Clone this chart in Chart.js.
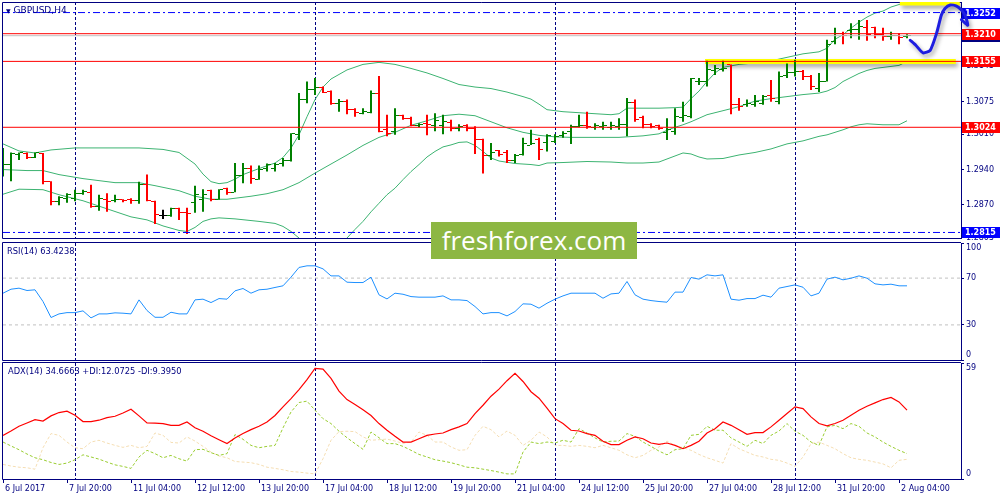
<!DOCTYPE html>
<html>
<head>
<meta charset="utf-8">
<script src="https://cdn.jsdelivr.net/npm/chart.js@4.4.1/dist/chart.umd.min.js"></script>
<style>
  html, body { margin: 0; padding: 0; background: #ffffff; }
  #wrap { position: relative; width: 1000px; height: 500px; overflow: hidden; background: #ffffff; }
  #wrap canvas { position: absolute; left: 0; }
  .cap { position: absolute; font-family: "DejaVu Sans", sans-serif; color: #000080; white-space: nowrap; line-height: 10px; }
  #brand { position: absolute; left: 431px; top: 222px; width: 206px; height: 37px; background: #8db743;
           color: #ffffff; font: 26px "Open Sans", sans-serif; line-height: 36px; text-align: center; }
</style>
</head>
<body>
<div id="wrap">
  <canvas id="mainChart" width="1000" height="250" style="top:-5px"></canvas>
  <canvas id="rsiChart" width="1000" height="141" style="top:231px"></canvas>
  <canvas id="adxChart" width="1000" height="149" style="top:351px"></canvas>
  <div class="cap" style="left:6px; top:5px; font-size:9px"><span style="font-size:6px">▼</span> GBPUSD,H4</div>
  <div class="cap" style="left:7px; top:246px; font-size:8.3px">RSI(14) 63.4238</div>
  <div class="cap" style="left:8px; top:366px; font-size:8.3px">ADX(14) 34.6663 +DI:12.0725 -DI:9.3950</div>
  <div id="brand">freshforex.com</div>
</div>
<script>
// ---- price bars (H4), index 0 = first visible bar ----
const opens = [
  1.2946, 1.2950, 1.2969, 1.2971, 1.2964, 1.2971, 1.2917, 1.2877, 1.2883, 1.2883,
  1.2892, 1.2895, 1.2867, 1.2880, 1.2878, 1.2880, 1.2880, 1.2878, 1.2911, 1.2877,
  1.2848, 1.2848, 1.2862, 1.2855, 1.2874, 1.2881, 1.2899, 1.2881, 1.2902, 1.2895,
  1.2928, 1.2943, 1.2921, 1.2943, 1.2943, 1.2953, 1.2958, 1.3009, 1.3079, 1.3100,
  1.3104, 1.3095, 1.3072, 1.3075, 1.3059, 1.3052, 1.3053, 1.3092, 1.3019, 1.3015,
  1.3047, 1.3042, 1.3028, 1.3032, 1.3028, 1.3028, 1.3033, 1.3022, 1.3027, 1.3022,
  1.2999, 1.2968, 1.2977, 1.2973, 1.2959, 1.2969, 1.2987, 1.2999, 1.2993, 1.2996,
  1.3008, 1.3016, 1.3026, 1.3028, 1.3024, 1.3026, 1.3024, 1.3026, 1.3029, 1.3073,
  1.3043, 1.3030, 1.3027, 1.3013, 1.3016, 1.3043, 1.3045, 1.3115, 1.3115, 1.3136,
  1.3138, 1.3148, 1.3069, 1.3069, 1.3070, 1.3072, 1.3088, 1.3075, 1.3127, 1.3132,
  1.3135, 1.3125, 1.3102, 1.3115, 1.3194, 1.3211, 1.3216, 1.3218, 1.3222, 1.3222,
  1.3209, 1.3204, 1.3206, 1.3204
];
const highs = [
  1.2983, 1.2974, 1.2974, 1.2974, 1.2974, 1.2973, 1.2917, 1.2887, 1.2893, 1.2900,
  1.2900, 1.2910, 1.2890, 1.2893, 1.2890, 1.2881, 1.2883, 1.2916, 1.2930, 1.2878,
  1.2860, 1.2864, 1.2864, 1.2864, 1.2908, 1.2901, 1.2900, 1.2901, 1.2904, 1.2953,
  1.2953, 1.2948, 1.2948, 1.2952, 1.2953, 1.2963, 1.3012, 1.3092, 1.3115, 1.3122,
  1.3105, 1.3097, 1.3080, 1.3079, 1.3062, 1.3062, 1.3097, 1.3126, 1.3049, 1.3062,
  1.3049, 1.3045, 1.3032, 1.3049, 1.3052, 1.3049, 1.3039, 1.3030, 1.3030, 1.3026,
  1.3001, 1.2993, 1.2979, 1.2979, 1.2971, 1.3003, 1.3019, 1.3003, 1.3010, 1.3010,
  1.3016, 1.3029, 1.3049, 1.3055, 1.3032, 1.3035, 1.3035, 1.3042, 1.3082, 1.3079,
  1.3047, 1.3032, 1.3029, 1.3042, 1.3062, 1.3075, 1.3122, 1.3122, 1.3156, 1.3148,
  1.3156, 1.3149, 1.3082, 1.3079, 1.3088, 1.3088, 1.3118, 1.3135, 1.3151, 1.3158,
  1.3138, 1.3128, 1.3132, 1.3198, 1.3222, 1.3214, 1.3231, 1.3237, 1.3237, 1.3224,
  1.3222, 1.3214, 1.3211, 1.3209
];
const lows = [
  1.2926, 1.2917, 1.2959, 1.2961, 1.2963, 1.2911, 1.2869, 1.2869, 1.2874, 1.2877,
  1.2890, 1.2864, 1.2858, 1.2856, 1.2875, 1.2875, 1.2872, 1.2872, 1.2877, 1.2832,
  1.2842, 1.2846, 1.2840, 1.2812, 1.2854, 1.2856, 1.2877, 1.2880, 1.2890, 1.2895,
  1.2913, 1.2912, 1.2920, 1.2936, 1.2936, 1.2946, 1.2956, 1.2999, 1.3072, 1.3088,
  1.3092, 1.3069, 1.3055, 1.3050, 1.3045, 1.3050, 1.3052, 1.3014, 1.3006, 1.3009,
  1.3039, 1.3026, 1.3024, 1.3008, 1.3016, 1.3010, 1.3016, 1.3016, 1.3016, 1.2971,
  1.2932, 1.2959, 1.2966, 1.2953, 1.2953, 1.2968, 1.2989, 1.2959, 1.2976, 1.2993,
  1.3003, 1.2991, 1.3024, 1.3021, 1.3019, 1.3019, 1.3019, 1.3019, 1.3006, 1.3035,
  1.3022, 1.3022, 1.3019, 1.2999, 1.3009, 1.3035, 1.3042, 1.3108, 1.3105, 1.3128,
  1.3135, 1.3050, 1.3057, 1.3065, 1.3065, 1.3069, 1.3075, 1.3070, 1.3122, 1.3125,
  1.3118, 1.3098, 1.3094, 1.3115, 1.3189, 1.3189, 1.3201, 1.3198, 1.3196, 1.3201,
  1.3196, 1.3198, 1.3189, 1.3201
];
const closes = [
  1.2950, 1.2971, 1.2973, 1.2963, 1.2973, 1.2917, 1.2877, 1.2885, 1.2890, 1.2892,
  1.2897, 1.2867, 1.2883, 1.2877, 1.2881, 1.2878, 1.2878, 1.2911, 1.2878, 1.2850,
  1.2848, 1.2862, 1.2854, 1.2852, 1.2891, 1.2891, 1.2880, 1.2900, 1.2895, 1.2928,
  1.2943, 1.2923, 1.2941, 1.2950, 1.2950, 1.2959, 1.3011, 1.3079, 1.3100, 1.3104,
  1.3093, 1.3072, 1.3075, 1.3059, 1.3053, 1.3055, 1.3092, 1.3016, 1.3011, 1.3047,
  1.3041, 1.3028, 1.3030, 1.3029, 1.3037, 1.3035, 1.3022, 1.3026, 1.3022, 1.2999,
  1.2968, 1.2973, 1.2969, 1.2959, 1.2968, 1.2991, 1.2991, 1.2979, 1.3007, 1.3006,
  1.3012, 1.3026, 1.3027, 1.3025, 1.3027, 1.3028, 1.3028, 1.3029, 1.3073, 1.3039,
  1.3029, 1.3026, 1.3022, 1.3019, 1.3045, 1.3047, 1.3120, 1.3116, 1.3138, 1.3141,
  1.3141, 1.3069, 1.3065, 1.3072, 1.3075, 1.3085, 1.3081, 1.3125, 1.3132, 1.3135,
  1.3125, 1.3105, 1.3115, 1.3189, 1.3211, 1.3206, 1.3219, 1.3224, 1.3209, 1.3208,
  1.3204, 1.3206, 1.3202, 1.3206
];

// ---- Bollinger bands, read as [bar, price] ----
const bbUpper = [[0,1.2991],[2,1.2977],[4,1.2973],[6,1.2979],[9,1.2983],[13,1.2983],[17,1.2983],[20,1.2980],[22,1.2974],[24,1.2951],[25,1.2931],[26,1.2916],[27,1.2912],[28,1.2914],[29,1.2921],[30,1.2930],[32,1.2942],[34,1.2953],[35,1.2964],[36,1.2983],[37,1.3009],[38,1.3045],[39,1.3079],[40,1.3104],[41,1.3120],[43,1.3138],[45,1.3149],[47,1.3153],[49,1.3149],[51,1.3141],[53,1.3132],[55,1.3121],[57,1.3109],[59,1.3104],[61,1.3101],[63,1.3094],[65,1.3085],[66,1.3080],[67,1.3070],[68,1.3059],[70,1.3055],[73,1.3052],[76,1.3049],[77,1.3051],[78,1.3062],[79,1.3062],[82,1.3062],[84,1.3063],[85,1.3064],[86,1.3081],[87,1.3096],[88,1.3115],[89,1.3132],[90,1.3143],[92,1.3149],[94,1.3152],[96,1.3156],[98,1.3163],[100,1.3170],[102,1.3174],[103,1.3181],[104,1.3199],[105,1.3208],[106,1.3221],[107,1.3233],[108,1.3243],[109,1.3251],[110,1.3255],[111,1.3263],[112,1.3268],[113,1.3272]];
const bbMiddle = [[0,1.2940],[3,1.2938],[5,1.2938],[7,1.2930],[10,1.2922],[14,1.2914],[17,1.2914],[19,1.2908],[22,1.2898],[24,1.2887],[26,1.2881],[28,1.2881],[31,1.2887],[33,1.2892],[35,1.2900],[37,1.2914],[39,1.2933],[41,1.2951],[43,1.2969],[45,1.2988],[47,1.3004],[49,1.3014],[51,1.3028],[53,1.3037],[55,1.3047],[57,1.3050],[59,1.3047],[61,1.3035],[63,1.3023],[65,1.3014],[67,1.3008],[69,1.3005],[71,1.3004],[74,1.3004],[77,1.3004],[80,1.3007],[82,1.3011],[83,1.3018],[84,1.3024],[85,1.3029],[86,1.3035],[87,1.3042],[88,1.3049],[90,1.3057],[92,1.3065],[94,1.3076],[96,1.3081],[98,1.3085],[100,1.3089],[102,1.3092],[103,1.3096],[104,1.3103],[105,1.3115],[106,1.3123],[107,1.3131],[108,1.3137],[109,1.3141],[110,1.3143],[111,1.3145],[112,1.3147],[113,1.3155]];
const bbLower = [[0,1.2891],[2,1.2901],[5,1.2900],[7,1.2890],[10,1.2878],[13,1.2862],[16,1.2846],[18,1.2840],[20,1.2828],[22,1.2819],[23,1.2817],[24,1.2825],[25,1.2837],[26,1.2842],[27,1.2844],[29,1.2842],[32,1.2837],[34,1.2833],[35,1.2827],[36,1.2817],[37,1.2804],[38,1.2789],[39,1.2777],[40,1.2773],[41,1.2777],[42,1.2789],[43,1.2804],[44,1.2821],[45,1.2837],[46,1.2856],[47,1.2873],[48,1.2890],[49,1.2903],[50,1.2920],[51,1.2936],[52,1.2950],[53,1.2965],[54,1.2976],[55,1.2985],[56,1.2989],[57,1.2994],[58,1.2995],[59,1.2988],[60,1.2976],[61,1.2963],[62,1.2957],[64,1.2952],[66,1.2950],[67,1.2948],[68,1.2953],[70,1.2954],[73,1.2956],[76,1.2955],[78,1.2953],[80,1.2953],[82,1.2955],[83,1.2961],[84,1.2967],[85,1.2973],[86,1.2971],[87,1.2965],[88,1.2961],[90,1.2962],[92,1.2969],[94,1.2974],[96,1.2981],[98,1.2991],[100,1.2997],[102,1.3006],[103,1.3009],[104,1.3014],[105,1.3019],[106,1.3025],[107,1.3029],[108,1.3031],[109,1.3030],[110,1.3029],[111,1.3029],[112,1.3029],[113,1.3037]];

// ---- oscillators, one value per bar ----
const rsi = [
  57.1, 60.5, 61.4, 59.4, 60.0, 50.0, 36.3, 39.4, 40.5, 40.5,
  42.0, 36.0, 39.4, 39.4, 40.3, 40.0, 39.4, 51.4, 42.3, 36.5,
  36.5, 40.8, 39.4, 39.4, 51.4, 52.0, 49.1, 52.5, 52.0, 59.1,
  61.1, 57.1, 60.0, 60.5, 62.0, 63.4, 70.8, 79.1, 80.5, 80.5,
  77.9, 71.9, 71.9, 66.5, 66.2, 66.2, 70.8, 55.7, 52.2, 57.1,
  56.2, 54.2, 53.7, 53.7, 53.7, 54.8, 51.4, 51.4, 50.8, 45.7,
  39.4, 40.5, 40.5, 37.7, 41.4, 48.0, 47.7, 44.3, 48.5, 52.0,
  54.8, 57.1, 57.1, 57.1, 57.1, 52.8, 56.5, 57.1, 67.1, 55.7,
  52.0, 50.8, 50.0, 49.4, 58.0, 58.0, 70.5, 69.1, 72.8, 71.9,
  72.8, 52.0, 51.1, 52.5, 52.5, 55.4, 53.7, 61.4, 62.8, 64.2,
  62.2, 54.8, 57.1, 69.1, 70.8, 68.5, 69.9, 71.9, 69.9, 65.1,
  64.2, 64.8, 63.4, 63.4
];
const adx = [
  22.2, 24.4, 26.8, 28.5, 30.2, 29.5, 32.1, 33.8, 34.5, 32.4,
  29.2, 29.2, 29.9, 31.2, 31.9, 33.6, 35.5, 32.1, 28.5, 28.4,
  28.2, 27.3, 27.3, 29.0, 26.1, 24.3, 22.0, 20.0, 18.0, 20.9,
  23.1, 25.1, 26.8, 29.0, 32.3, 36.7, 40.9, 45.5, 50.5, 56.3,
  55.9, 51.2, 44.7, 40.4, 37.9, 35.2, 32.3, 28.2, 24.8, 21.7,
  18.8, 18.8, 20.5, 22.2, 22.9, 23.4, 25.1, 26.5, 28.2, 33.3,
  37.5, 42.1, 45.7, 50.0, 53.7, 49.6, 44.4, 41.1, 36.0, 30.7,
  28.2, 24.8, 24.4, 23.1, 22.2, 19.2, 17.5, 17.5, 19.7, 21.4,
  20.5, 18.3, 17.6, 18.3, 17.1, 15.4, 17.1, 19.2, 23.4, 25.6,
  29.0, 27.3, 25.1, 22.7, 23.6, 23.6, 26.5, 29.9, 33.3, 36.7,
  35.8, 31.6, 28.2, 27.0, 28.2, 29.9, 32.4, 35.0, 37.0, 38.7,
  40.4, 41.5, 39.2, 35.0
];
const plusDI = [
  18.8, 16.8, 14.9, 12.7, 10.8, 9.8, 8.4, 7.4, 8.1, 9.8,
  12.3, 11.2, 10.1, 8.6, 7.2, 6.4, 5.4, 11.2, 14.6, 12.9,
  10.8, 12.0, 10.3, 9.1, 14.9, 15.1, 13.4, 12.0, 12.9, 22.6,
  20.2, 17.1, 15.9, 16.6, 17.1, 26.0, 34.1, 38.9, 39.6, 35.0,
  30.7, 28.2, 24.3, 21.0, 18.0, 15.1, 23.9, 21.0, 18.0, 18.0,
  16.6, 14.6, 12.5, 11.2, 9.8, 9.1, 8.3, 7.2, 6.0, 5.7,
  5.0, 4.3, 3.5, 2.6, 2.6, 13.7, 18.8, 18.0, 18.8, 18.3,
  19.7, 18.8, 25.6, 23.4, 20.9, 18.8, 19.2, 19.3, 23.1, 21.7,
  18.8, 16.6, 14.2, 12.3, 14.9, 15.4, 22.2, 22.7, 26.8, 24.8,
  24.8, 20.9, 18.8, 16.6, 19.7, 18.0, 22.2, 24.4, 28.2, 24.3,
  22.2, 18.8, 17.1, 26.5, 27.3, 25.6, 28.2, 26.8, 23.4, 21.4,
  18.8, 16.6, 14.6, 12.9
];
const minusDI = [
  7.4, 6.6, 6.0, 5.7, 5.0, 15.9, 23.1, 22.2, 18.8, 15.9,
  15.4, 18.8, 19.7, 18.3, 17.1, 16.1, 17.1, 15.9, 16.6, 23.4,
  22.2, 18.6, 18.3, 21.4, 19.3, 16.6, 13.7, 11.7, 10.8, 8.9,
  8.6, 8.3, 7.4, 6.0, 5.4, 4.7, 3.8, 3.5, 3.0, 2.6,
  10.3, 19.7, 24.1, 24.3, 24.1, 21.4, 19.7, 20.0, 20.3, 19.3,
  18.1, 18.8, 23.9, 22.2, 18.8, 18.8, 16.3, 14.6, 14.9, 22.2,
  26.8, 25.1, 21.4, 24.4, 22.2, 17.1, 19.7, 23.9, 21.4, 17.1,
  17.1, 16.6, 17.1, 16.6, 15.9, 17.1, 15.9, 14.6, 12.3, 10.8,
  12.0, 14.6, 16.3, 19.3, 17.1, 15.9, 14.6, 12.5, 10.8, 9.5,
  8.1, 18.0, 15.4, 13.7, 12.0, 11.2, 10.0, 9.5, 8.1, 6.4,
  11.2, 18.0, 18.8, 17.1, 15.4, 12.9, 10.8, 10.0, 9.5, 8.6,
  7.7, 5.7, 9.5, 10.0
];

// ---- chart objects / levels ----
const redLevels = [1.3210, 1.3155, 1.3024];
const blueLevels = [1.3252, 1.2815];
const bidPrice = 1.3206;
const zoneFrom = [87.75, 112.1];
const zoneTo = [119.1, 119.6];
const zonePrice = [1.3155, 1.3271];
const arrowBars = [113.4, 114.1, 115.0, 115.9, 116.7, 117.3, 117.75, 118.4, 119.2, 119.8, 120.25, 120.6, 119.8];
const arrowPrices = [1.3197, 1.3187, 1.3172, 1.3177, 1.3211, 1.3247, 1.3260, 1.3267, 1.3265, 1.3257, 1.3247, 1.3227, 1.3238];

// ---- axes ----
const priceTicks = [1.2805, 1.2870, 1.2940, 1.3010, 1.3075, 1.3145];
const rsiTicks = [0, 30, 70, 100];
const rsiLevels = [30, 70];
const adxTicks = [0, 59];
const gridBars = [9, 39, 69, 99];
const dateBars = [0, 8, 16, 24, 32, 40, 48, 56, 64, 72, 80, 88, 96, 104, 112];
const dateLabels = ['6 Jul 2017', '7 Jul 20:00', '11 Jul 04:00', '12 Jul 12:00', '13 Jul 20:00', '17 Jul 04:00',
  '18 Jul 12:00', '19 Jul 20:00', '21 Jul 04:00', '24 Jul 12:00', '25 Jul 20:00', '27 Jul 04:00',
  '28 Jul 12:00', '31 Jul 20:00', '2 Aug 04:00'];

const X_MIN = 0, X_MAX = 119.75;
const NAVY = '#000080';
const UP = '#008000', DOWN = '#ff0000', DOJI = '#000000';

Chart.defaults.font.family = "'DejaVu Sans', sans-serif";
Chart.defaults.font.size = 8;
Chart.defaults.font.lineHeight = 1.25;
Chart.defaults.color = NAVY;
Chart.defaults.animation = false;

const barColors = closes.map((c, i) => c > opens[i] ? UP : (c < opens[i] ? DOWN : DOJI));

function tickMark(color, side) {
  const c = document.createElement('canvas');
  c.width = 8;
  c.height = 1;
  const g = c.getContext('2d');
  g.fillStyle = color;
  g.fillRect(side === 'open' ? 0 : 5, 0, 3, 1);
  return c;
}
const openMarks = {}, closeMarks = {};
[UP, DOWN, DOJI].forEach(col => {
  openMarks[col] = tickMark(col, 'open');
  closeMarks[col] = tickMark(col, 'close');
});

function xHidden() {
  return { type: 'linear', min: X_MIN, max: X_MAX, offset: false, display: false };
}

function rightAxis(min, max, values, fmt) {
  return {
    position: 'right', min: min, max: max,
    afterFit: s => { s.width = 39; },
    afterBuildTicks: s => { s.ticks = values.map(v => ({ value: v })); },
    ticks: { callback: fmt, padding: 2, color: NAVY, autoSkip: false },
    grid: { drawOnChartArea: false, drawTicks: true, tickLength: 3, color: NAVY },
    border: { color: NAVY }
  };
}

function flatLine(value, color, dash, order) {
  return {
    type: 'line',
    data: [{ x: X_MIN, y: value }, { x: X_MAX, y: value }],
    borderColor: color, borderWidth: 1, borderDash: dash,
    pointRadius: 0, order: order
  };
}

// frame + dashed vertical grid
const panelFrame = {
  id: 'panelFrame',
  beforeDatasetsDraw(chart, args, opts) {
    const { ctx, chartArea: a, scales: { x } } = chart;
    ctx.save();
    ctx.strokeStyle = NAVY;
    ctx.lineWidth = 1;
    ctx.setLineDash([3, 2]);
    gridBars.forEach(b => {
      const px = Math.round(x.getPixelForValue(b)) + 0.5;
      ctx.beginPath();
      ctx.moveTo(px, a.top);
      ctx.lineTo(px, a.bottom);
      ctx.stroke();
    });
    ctx.setLineDash([]);
    ctx.beginPath();
    ctx.moveTo(a.right, opts.top);
    ctx.lineTo(2.5, opts.top);
    ctx.lineTo(2.5, opts.bottom);
    ctx.lineTo(a.right, opts.bottom);
    ctx.stroke();
    ctx.restore();
  }
};

// price tags on the right axis
const priceTags = {
  id: 'priceTags',
  beforeDatasetsDraw(chart) {
    const { ctx, scales: { y } } = chart;
    const tags = [[bidPrice, NAVY]]
      .concat(redLevels.map(v => [v, '#ff0000']))
      .concat(blueLevels.map(v => [v, '#0000ff']));
    ctx.save();
    ctx.font = "bold 8px 'DejaVu Sans', sans-serif";
    ctx.textBaseline = 'middle';
    tags.forEach(([v, col]) => {
      const py = Math.round(y.getPixelForValue(v));
      ctx.fillStyle = col;
      ctx.fillRect(962, py - 5, 38, 11);
      ctx.fillStyle = '#ffffff';
      ctx.fillText(v.toFixed(4), 965, py + 0.5);
    });
    ctx.restore();
  }
};

// soft shadow under hand-drawn objects
const objShadow = {
  id: 'objShadow',
  beforeDatasetDraw(chart, args) {
    if (chart.data.datasets[args.index].shadow) {
      const ctx = chart.ctx;
      ctx.save();
      ctx.shadowColor = 'rgba(0,0,0,0.35)';
      ctx.shadowBlur = 4;
      ctx.shadowOffsetX = 2;
      ctx.shadowOffsetY = 3;
    }
  },
  afterDatasetDraw(chart, args) {
    if (chart.data.datasets[args.index].shadow) chart.ctx.restore();
  }
};

const bandStyle = { type: 'line', borderColor: '#3cb371', borderWidth: 1, pointRadius: 0, tension: 0, order: 6 };

const mainDatasets = [
  {
    type: 'bar',
    data: lows.map((l, i) => ({ x: i, y: [l, highs[i]] })),
    backgroundColor: barColors,
    barThickness: 2, borderWidth: 0, inflateAmount: 0, order: 3
  },
  {
    type: 'scatter',
    data: opens.map((o, i) => ({ x: i, y: o })),
    pointStyle: c => openMarks[barColors[c.dataIndex]],
    pointRadius: 3, order: 2
  },
  {
    type: 'scatter',
    data: closes.map((v, i) => ({ x: i, y: v })),
    pointStyle: c => closeMarks[barColors[c.dataIndex]],
    pointRadius: 3, order: 2
  },
  Object.assign({ data: bbUpper.map(p => ({ x: p[0], y: p[1] })) }, bandStyle),
  Object.assign({ data: bbMiddle.map(p => ({ x: p[0], y: p[1] })) }, bandStyle),
  Object.assign({ data: bbLower.map(p => ({ x: p[0], y: p[1] })) }, bandStyle)
];
zonePrice.forEach((p, k) => {
  mainDatasets.push({
    type: 'line',
    data: [{ x: zoneFrom[k], y: p }, { x: zoneTo[k], y: p }],
    borderColor: '#ffff00', borderWidth: 5, borderCapStyle: 'butt',
    pointRadius: 0, order: 5, shadow: true
  });
});
redLevels.forEach(v => mainDatasets.push(flatLine(v, '#ff0000', [], 1)));
blueLevels.forEach(v => mainDatasets.push(flatLine(v, '#0000ff', [7, 3, 2, 3], 1)));
mainDatasets.push(flatLine(bidPrice, '#c0c0c0', [], 1.5));
mainDatasets.push({
  type: 'line',
  data: arrowBars.map((b, i) => ({ x: b, y: arrowPrices[i] })),
  borderColor: '#1e1ee0', borderWidth: 3, borderJoinStyle: 'round', borderCapStyle: 'round',
  pointRadius: 0, tension: 0.2, clip: false, order: 0, shadow: true
});

new Chart(document.getElementById('mainChart'), {
  type: 'bar',
  data: { datasets: mainDatasets },
  options: {
    responsive: false,
    events: [],
    layout: { padding: { left: 3, right: 0, top: 0, bottom: 0 }, autoPadding: false },
    scales: {
      x: xHidden(),
      y: rightAxis(1.2804, 1.3273, priceTicks, v => v.toFixed(4))
    },
    plugins: {
      legend: { display: false },
      tooltip: { enabled: false },
      panelFrame: { top: 7.5, bottom: 243.5 }
    }
  },
  plugins: [panelFrame, priceTags, objShadow]
});

// ---- RSI ----
const rsiDatasets = [{
  data: rsi.map((v, i) => ({ x: i, y: v })),
  borderColor: '#1e90ff', borderWidth: 1, pointRadius: 0, tension: 0, order: 0
}];
rsiLevels.forEach(v => rsiDatasets.push(flatLine(v, '#c0c0c0', [3, 3], 1)));

new Chart(document.getElementById('rsiChart'), {
  type: 'line',
  data: { datasets: rsiDatasets },
  options: {
    responsive: false,
    events: [],
    layout: { padding: { left: 3, right: 0, top: 0, bottom: 0 }, autoPadding: false },
    scales: {
      x: xHidden(),
      y: rightAxis(0, 100, rsiTicks, v => v === 100 ? ['', '100'] : (v === 0 ? ['0', ''] : String(v)))
    },
    plugins: {
      legend: { display: false },
      tooltip: { enabled: false },
      panelFrame: { top: 11.5, bottom: 129.5 }
    }
  },
  plugins: [panelFrame]
});

// ---- ADX ----
new Chart(document.getElementById('adxChart'), {
  type: 'line',
  data: {
    datasets: [
      { data: adx.map((v, i) => ({ x: i, y: v })), borderColor: '#ff0000', borderWidth: 1.2, pointRadius: 0, order: 0 },
      { data: plusDI.map((v, i) => ({ x: i, y: v })), borderColor: '#9acd32', borderWidth: 1, borderDash: [3, 2], pointRadius: 0, order: 1 },
      { data: minusDI.map((v, i) => ({ x: i, y: v })), borderColor: '#f5deb3', borderWidth: 1, borderDash: [3, 2], pointRadius: 0, order: 2 }
    ]
  },
  options: {
    responsive: false,
    events: [],
    layout: { padding: { left: 3, right: 0, top: 0, bottom: 0 }, autoPadding: false },
    scales: {
      x: {
        type: 'linear', min: X_MIN, max: X_MAX, offset: false,
        afterFit: s => { s.height = 21; },
        afterBuildTicks: s => { s.ticks = dateBars.map(v => ({ value: v })); },
        ticks: {
          callback: (v, i) => dateLabels[i],
          align: 'start', labelOffset: 2, padding: 1,
          autoSkip: false, maxRotation: 0, color: NAVY
        },
        grid: { drawOnChartArea: false, drawTicks: true, tickLength: 4, color: NAVY },
        border: { color: NAVY }
      },
      y: rightAxis(0, 59, adxTicks, v => v === 59 ? ['', '59'] : ['0', ''])
    },
    plugins: {
      legend: { display: false },
      tooltip: { enabled: false },
      panelFrame: { top: 11.5, bottom: 128.5 }
    }
  },
  plugins: [panelFrame]
});
</script>
</body>
</html>
